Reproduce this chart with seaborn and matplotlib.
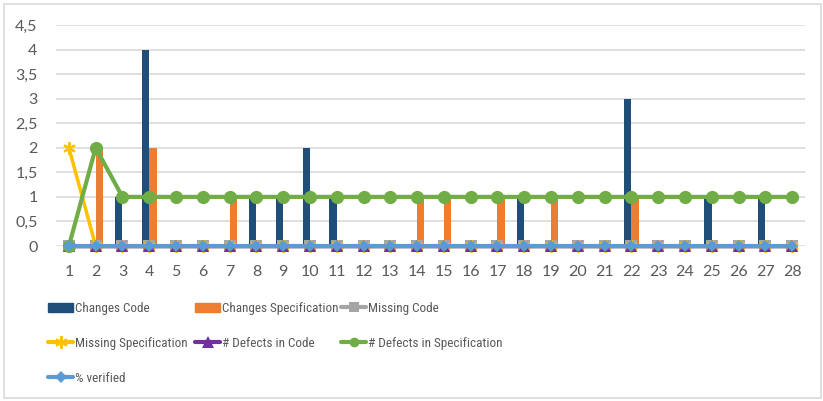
import matplotlib
matplotlib.use("Agg")
import matplotlib.pyplot as plt
import matplotlib.patches as mpatches
from matplotlib import font_manager as fm
from matplotlib.lines import Line2D
import numpy as np
import pandas as pd
import seaborn as sns

# ---- data -------------------------------------------------------------
days = list(range(1, 29))
changes_code = [0, 0, 1, 4, 0, 0, 0, 1, 1, 2, 1, 0, 0, 0,
                0, 0, 0, 1, 0, 0, 0, 3, 0, 0, 1, 0, 1, 0]
changes_spec = [0, 2, 0, 2, 0, 0, 1, 0, 0, 0, 0, 0, 0, 1,
                1, 0, 1, 0, 1, 0, 0, 1, 0, 0, 0, 0, 0, 0]
missing_code = [0] * 28
missing_spec = [2] + [0] * 27
defects_code = [0] * 28
defects_spec = [0, 2] + [1] * 26
pct_verified = [0] * 28
y_ticks = [0, 0.5, 1, 1.5, 2, 2.5, 3, 3.5, 4, 4.5]

sns.set_theme(style="white")
plt.rcParams["font.family"] = ["Lato", "DejaVu Sans"]

installed = {f.name for f in fm.fontManager.ttflist}
if "Roboto Condensed" in installed:
    legend_family, legend_size = ["Roboto Condensed", "DejaVu Sans"], 9.5
else:
    legend_family, legend_size = ["Lato", "DejaVu Sans"], 9

W, H = 823, 401
fig = plt.figure(figsize=(W / 100, H / 100), dpi=100)
ax = fig.add_axes([55.5 / W, 1 - 246 / H, (805.5 - 55.5) / W, (246 - 25) / H])

C_CODE = "#1F4E79"
C_SPEC = "#ED7D31"
C_MCODE = "#A5A5A5"
C_MSPEC = "#FFC000"
C_DCODE = "#7030A0"
C_DSPEC = "#70AD47"
C_VER = "#5B9BD5"

# clustered bars
bars = pd.DataFrame({
    "day": days * 2,
    "value": changes_code + changes_spec,
    "series": ["Changes Code"] * 28 + ["Changes Specification"] * 28,
})
sns.barplot(data=bars, x="day", y="value", hue="series",
            palette=[C_CODE, C_SPEC], width=0.55, gap=0,
            saturation=1, legend=False, ax=ax, zorder=2)
for p in ax.patches:
    p.set_edgecolor("none")

STAR = (6, 2, 0)
pos = np.arange(28)
line_specs = [
    (missing_code, C_MCODE, "s", 8, 2.5),
    (missing_spec, C_MSPEC, STAR, 9, 2.5),
    (defects_code, C_DCODE, "^", 8, 2.5),
    (defects_spec, C_DSPEC, "o", 9.5, 3),
    (pct_verified, C_VER, "D", 6.5, 3),
]
for vals, col, mk, ms, lw in line_specs:
    sns.lineplot(x=pos, y=vals, color=col, marker=mk, markersize=ms,
                 markeredgecolor=col, markeredgewidth=1.5 if mk == STAR else 0,
                 linewidth=lw, ax=ax, zorder=3, clip_on=False)

ax.set_xlim(-0.5, 27.5)
ax.set_ylim(0, 4.5)
ax.set_yticks(y_ticks)
ax.set_yticklabels([f"{t:g}".replace(".", ",") for t in y_ticks])
ax.set_xticks(pos)
ax.set_xticklabels([str(d) for d in days])
ax.set_xlabel("")
ax.set_ylabel("")
ax.grid(axis="y", color="#D9D9D9", linewidth=1.2, zorder=0)
ax.set_axisbelow(True)
for s in ax.spines.values():
    s.set_visible(False)
ax.tick_params(axis="both", length=0, labelsize=11.5, colors="#595959")
ax.tick_params(axis="y", pad=13)
ax.tick_params(axis="x", pad=14)

# legend laid out in three columns
def line_handle(col, mk, ms, lw):
    return Line2D([], [], color=col, marker=mk, markersize=ms, linewidth=lw,
                  markeredgecolor=col, markeredgewidth=1.5 if mk == STAR else 0)

h_cc = mpatches.Patch(color=C_CODE)
h_cs = mpatches.Patch(color=C_SPEC)
h_mc = line_handle(C_MCODE, "s", 7, 3)
h_ms = line_handle(C_MSPEC, STAR, 9, 3)
h_dc = line_handle(C_DCODE, "^", 8, 3)
h_ds = line_handle(C_DSPEC, "o", 7, 3)
h_v = line_handle(C_VER, "D", 6, 3)

columns = [
    (48, [h_cc, h_ms, h_v], ["Changes Code", "Missing Specification", "% verified"]),
    (195, [h_cs, h_dc], ["Changes Specification", "# Defects in Code"]),
    (341, [h_mc, h_ds], ["Missing Code", "# Defects in Specification"]),
]
for x0, hs, labs in columns:
    fig.legend(hs, labs, loc="upper left",
               bbox_to_anchor=(x0 / W, 1 - 302 / H),
               frameon=False, labelcolor="#595959",
               prop={"family": legend_family, "size": legend_size},
               handlelength=1.9, handleheight=0.7, handletextpad=0.15,
               borderpad=0, borderaxespad=0, labelspacing=1.65)

fig.patches.append(mpatches.Rectangle((4 / W, 3 / H), 817 / W, 394 / H,
                                      transform=fig.transFigure, fill=False,
                                      edgecolor="#D9D9D9", linewidth=1.2))

fig.savefig("out.png", dpi=100)
